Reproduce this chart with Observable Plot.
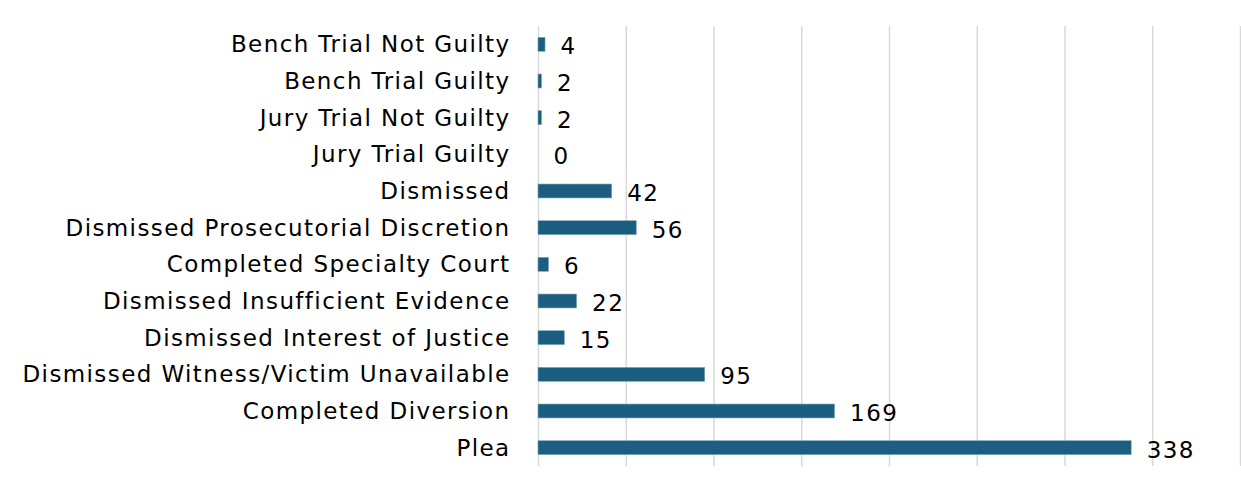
<!DOCTYPE html>
<html>
<head>
<meta charset="utf-8">
<script src="https://cdn.jsdelivr.net/npm/d3@7"></script>
<script src="https://cdn.jsdelivr.net/npm/@observablehq/plot@0.6"></script>
<style>
  html, body { margin: 0; padding: 0; background: #fff; }
  svg { display: block; }
  svg text { letter-spacing: 1.4px; }
</style>
</head>
<body>
<div id="chart"></div>
<script>
const categories = [
  "Bench Trial Not Guilty",
  "Bench Trial Guilty",
  "Jury Trial Not Guilty",
  "Jury Trial Guilty",
  "Dismissed",
  "Dismissed Prosecutorial Discretion",
  "Completed Specialty Court",
  "Dismissed Insufficient Evidence",
  "Dismissed Interest of Justice",
  "Dismissed Witness/Victim Unavailable",
  "Completed Diversion",
  "Plea"
];
const values = [4, 2, 2, 0, 42, 56, 6, 22, 15, 95, 169, 338];
const gridTicks = [0, 50, 100, 150, 200, 250, 300, 350, 400];

const data = categories.map((c, i) => ({category: c, value: values[i]}));

const chart = Plot.plot({
  width: 1241,
  height: 496,
  marginLeft: 538,
  marginRight: 1,
  marginTop: 26,
  marginBottom: 30,
  style: {fontFamily: "'DejaVu Sans', sans-serif", fontSize: "23px", color: "#000", background: "#fff"},
  x: {domain: [0, 400], axis: null},
  y: {domain: categories, paddingInner: 0.62, paddingOuter: 0.31, round: false, label: null},
  marks: [
    Plot.gridX(gridTicks, {stroke: "#d9d9d9", strokeOpacity: 1, strokeWidth: 1.5}),
    Plot.barX(data, {x: "value", y: "category", fill: "#1b5e7f", stroke: "#7fa6bb", strokeWidth: 0.6}),
    Plot.text(data, {x: "value", y: "category", text: d => String(d.value), textAnchor: "start", dx: 15, dy: 2, fontSize: 23, fill: "#000"}),
    Plot.axisY({tickSize: 0, tickPadding: 28, fontSize: 23, label: null})
  ]
});
document.getElementById("chart").appendChild(chart);
</script>
</body>
</html>
